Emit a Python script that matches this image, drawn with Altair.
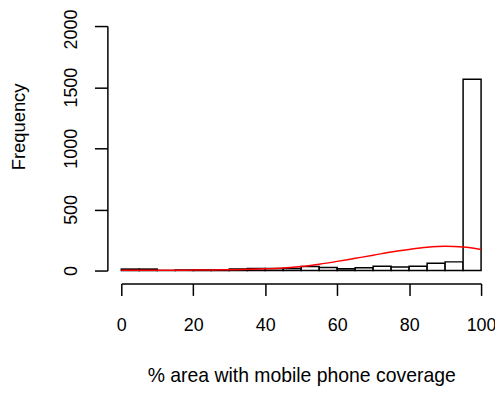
import altair as alt
import pandas as pd

# Histogram bins (width 5) and counts
bin_start = list(range(0, 100, 5))
counts = [12, 12, 1, 5, 5, 5, 13, 16, 16, 16, 34, 24, 14, 23, 36, 30, 35, 60, 71, 1565]

# Red smooth curve
curve_x = [0, 5, 10, 15, 20, 25, 30, 35, 40, 45, 50, 55, 60, 65, 70, 75, 80, 85, 90, 95, 100]
curve_y = [3, 3, 3, 3, 4, 5, 7, 10, 14, 21, 33, 52, 75, 100, 125, 152, 173, 190, 198, 193, 172]

bars_df = pd.DataFrame({"lo": bin_start, "hi": [b + 5 for b in bin_start], "count": counts, "zero": [0] * len(counts)})
curve_df = pd.DataFrame({"x": curve_x, "y": curve_y})

FONT = "Liberation Sans"

xscale = alt.Scale(domain=[0, 100], nice=False, zero=False)
yscale = alt.Scale(domain=[0, 2000], nice=False)

xaxis = alt.Axis(
    values=[0, 20, 40, 60, 80, 100], grid=False, offset=13, tickSize=12,
    tickColor="black", domainColor="black", tickWidth=1.5, domainWidth=1.5,
    labelFont=FONT, labelFontSize=18, labelColor="black", labelPadding=21,
    format="d",
    title="% area with mobile phone coverage", titleFont=FONT, titleFontSize=19.5,
    titleFontWeight="normal", titleColor="black", titleY=99, titleBaseline="alphabetic",
    labelFlush=False, labelOverlap=False,
)
yaxis = alt.Axis(
    values=[0, 500, 1000, 1500, 2000], grid=False, offset=14, tickSize=13,
    tickColor="black", domainColor="black", tickWidth=1.5, domainWidth=1.5,
    labelFont=FONT, labelFontSize=18, labelColor="black", labelAngle=270,
    labelPadding=14, labelFlush=False, labelOverlap=False, format="d",
    labelOffset=alt.ExprRef("datum.value == 2000 ? 3 : 0"),
    title="Frequency", titleFont=FONT, titleFontSize=18.5, titleFontWeight="normal",
    titleColor="black", titleX=-83, titleY=101, titleBaseline="alphabetic", titleAngle=270,
)

bars = alt.Chart(bars_df).mark_rect(fill="white", stroke="black", strokeWidth=1.5).encode(
    x=alt.X("lo:Q", scale=xscale, axis=xaxis),
    x2="hi:Q",
    y=alt.Y("count:Q", scale=yscale, axis=yaxis),
    y2="zero:Q",
)

line = alt.Chart(curve_df).mark_line(color="red", strokeWidth=1.5, interpolate="monotone").encode(
    x=alt.X("x:Q", scale=xscale),
    y=alt.Y("y:Q", scale=yscale),
)

chart = alt.layer(bars, line).properties(
    width=362, height=246,
    background="white",
    autosize=alt.AutoSizeParams(type="none"),
    padding={"left": 114, "top": 17, "right": 14, "bottom": 117},
).configure_view(strokeWidth=0, stroke="transparent")

chart.save("out.html", embed_options={"renderer": "svg", "actions": False})
